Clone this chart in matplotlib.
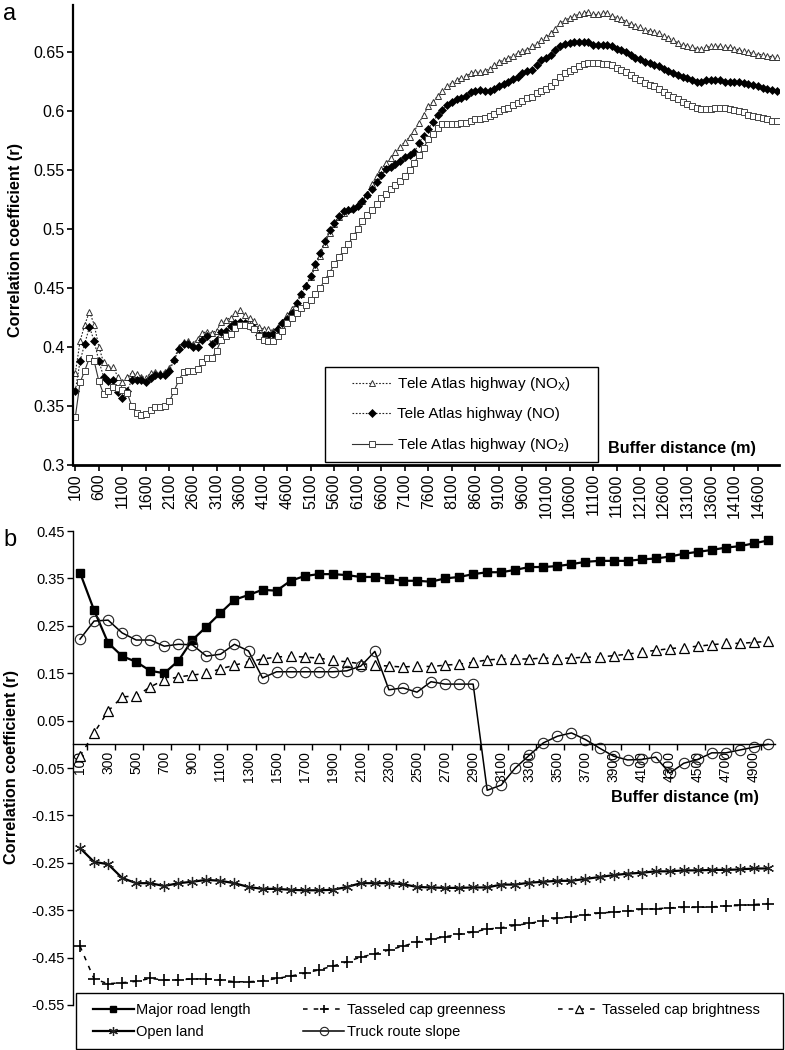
import matplotlib
matplotlib.use("Agg")
import matplotlib.pyplot as plt
from matplotlib.patches import Rectangle

plt.rcParams['font.family'] = ['Liberation Sans', 'DejaVu Sans']

# ---- panel a: Tele Atlas highway, buffers 100 m .. 15000 m
buffer_a = list(range(100, 15001, 100))
nox = [0.378, 0.405, 0.419, 0.430, 0.419, 0.400, 0.387, 0.383, 0.383, 0.375,
       0.370, 0.375, 0.378, 0.377, 0.375, 0.374, 0.378, 0.379, 0.378, 0.379,
       0.382, 0.390, 0.400, 0.404, 0.405, 0.403, 0.407, 0.412, 0.413, 0.412,
       0.414, 0.421, 0.423, 0.425, 0.429, 0.431, 0.427, 0.425, 0.422, 0.417,
       0.415, 0.415, 0.414, 0.417, 0.421, 0.427, 0.432, 0.437, 0.445, 0.453,
       0.459, 0.468, 0.477, 0.487, 0.497, 0.504, 0.510, 0.514, 0.517, 0.519,
       0.521, 0.524, 0.530, 0.538, 0.545, 0.551, 0.556, 0.560, 0.565, 0.570,
       0.574, 0.578, 0.583, 0.590, 0.597, 0.604, 0.608, 0.613, 0.617, 0.621,
       0.624, 0.626, 0.628, 0.630, 0.632, 0.633, 0.633, 0.634, 0.636, 0.639,
       0.642, 0.643, 0.645, 0.647, 0.649, 0.651, 0.652, 0.655, 0.657, 0.660,
       0.663, 0.666, 0.670, 0.675, 0.677, 0.679, 0.681, 0.682, 0.683, 0.684,
       0.682, 0.682, 0.683, 0.683, 0.681, 0.679, 0.678, 0.676, 0.674, 0.672,
       0.671, 0.669, 0.668, 0.667, 0.666, 0.664, 0.662, 0.660, 0.658, 0.656,
       0.655, 0.654, 0.653, 0.653, 0.654, 0.655, 0.655, 0.655, 0.654, 0.654,
       0.653, 0.652, 0.651, 0.650, 0.649, 0.648, 0.648, 0.647, 0.646, 0.646]
no = [0.363, 0.388, 0.403, 0.417, 0.405, 0.388, 0.375, 0.371, 0.372, 0.362,
      0.357, 0.363, 0.372, 0.372, 0.372, 0.370, 0.374, 0.376, 0.376, 0.376,
      0.380, 0.389, 0.398, 0.403, 0.403, 0.400, 0.400, 0.406, 0.409, 0.403,
      0.406, 0.413, 0.414, 0.418, 0.420, 0.421, 0.420, 0.418, 0.416, 0.410,
      0.410, 0.410, 0.411, 0.415, 0.420, 0.424, 0.429, 0.437, 0.445, 0.452,
      0.460, 0.470, 0.480, 0.490, 0.499, 0.505, 0.511, 0.515, 0.516, 0.517,
      0.520, 0.524, 0.529, 0.534, 0.540, 0.546, 0.551, 0.553, 0.555, 0.558,
      0.561, 0.563, 0.565, 0.573, 0.579, 0.585, 0.591, 0.597, 0.601, 0.605,
      0.608, 0.610, 0.611, 0.613, 0.616, 0.617, 0.618, 0.617, 0.617, 0.619,
      0.621, 0.623, 0.625, 0.627, 0.629, 0.632, 0.634, 0.635, 0.639, 0.643,
      0.645, 0.648, 0.652, 0.655, 0.657, 0.658, 0.659, 0.659, 0.659, 0.659,
      0.656, 0.656, 0.656, 0.656, 0.655, 0.653, 0.652, 0.650, 0.648, 0.645,
      0.644, 0.642, 0.641, 0.639, 0.638, 0.636, 0.634, 0.632, 0.631, 0.629,
      0.628, 0.626, 0.625, 0.625, 0.626, 0.626, 0.626, 0.626, 0.625, 0.625,
      0.625, 0.625, 0.624, 0.623, 0.622, 0.621, 0.620, 0.619, 0.618, 0.617]
no2 = [0.341, 0.370, 0.380, 0.391, 0.388, 0.371, 0.360, 0.363, 0.366, 0.365,
       0.364, 0.361, 0.350, 0.344, 0.342, 0.343, 0.347, 0.349, 0.349, 0.350,
       0.354, 0.363, 0.372, 0.379, 0.380, 0.380, 0.381, 0.387, 0.391, 0.391,
       0.397, 0.406, 0.409, 0.411, 0.416, 0.419, 0.419, 0.418, 0.415, 0.409,
       0.406, 0.405, 0.405, 0.409, 0.414, 0.420, 0.425, 0.429, 0.433, 0.436,
       0.440, 0.445, 0.450, 0.457, 0.463, 0.470, 0.476, 0.482, 0.487, 0.494,
       0.500, 0.507, 0.512, 0.516, 0.521, 0.526, 0.530, 0.534, 0.537, 0.541,
       0.545, 0.550, 0.556, 0.563, 0.569, 0.576, 0.581, 0.586, 0.589, 0.589,
       0.589, 0.589, 0.590, 0.590, 0.592, 0.593, 0.593, 0.594, 0.596, 0.598,
       0.600, 0.602, 0.603, 0.605, 0.607, 0.609, 0.611, 0.612, 0.615, 0.617,
       0.619, 0.621, 0.625, 0.629, 0.632, 0.634, 0.636, 0.638, 0.640, 0.641,
       0.641, 0.641, 0.640, 0.640, 0.639, 0.637, 0.635, 0.633, 0.631, 0.628,
       0.626, 0.624, 0.622, 0.621, 0.619, 0.616, 0.614, 0.612, 0.610, 0.608,
       0.606, 0.604, 0.603, 0.602, 0.602, 0.602, 0.603, 0.603, 0.603, 0.602,
       0.601, 0.600, 0.599, 0.597, 0.596, 0.595, 0.594, 0.593, 0.592, 0.592]

# ---- panel b: buffers 100 m .. 5000 m
buffer_b = list(range(100, 5001, 100))
major_road = [0.362, 0.283, 0.214, 0.186, 0.174, 0.155, 0.150, 0.176, 0.220, 0.248,
              0.277, 0.305, 0.315, 0.326, 0.324, 0.345, 0.355, 0.359, 0.359, 0.357,
              0.353, 0.353, 0.349, 0.345, 0.345, 0.343, 0.350, 0.353, 0.359, 0.363,
              0.363, 0.368, 0.374, 0.374, 0.376, 0.380, 0.385, 0.387, 0.387, 0.387,
              0.390, 0.392, 0.396, 0.402, 0.406, 0.410, 0.415, 0.418, 0.424, 0.430]
greenness = [-0.426, -0.495, -0.505, -0.503, -0.500, -0.494, -0.497, -0.497, -0.495, -0.495,
             -0.497, -0.501, -0.501, -0.499, -0.494, -0.489, -0.483, -0.476, -0.468, -0.459,
             -0.449, -0.442, -0.434, -0.426, -0.417, -0.411, -0.406, -0.401, -0.396, -0.390,
             -0.387, -0.382, -0.378, -0.372, -0.367, -0.364, -0.360, -0.356, -0.354, -0.352,
             -0.348, -0.347, -0.345, -0.344, -0.344, -0.343, -0.341, -0.340, -0.338, -0.336]
brightness = [-0.025, 0.024, 0.070, 0.100, 0.102, 0.121, 0.136, 0.142, 0.146, 0.150,
              0.159, 0.167, 0.174, 0.180, 0.184, 0.186, 0.184, 0.182, 0.177, 0.174,
              0.170, 0.167, 0.165, 0.163, 0.165, 0.164, 0.167, 0.169, 0.173, 0.178,
              0.180, 0.180, 0.180, 0.182, 0.181, 0.182, 0.184, 0.184, 0.187, 0.190,
              0.195, 0.198, 0.202, 0.204, 0.207, 0.210, 0.213, 0.213, 0.215, 0.217]
open_land = [-0.219, -0.248, -0.253, -0.282, -0.293, -0.293, -0.299, -0.293, -0.290, -0.286,
             -0.288, -0.293, -0.301, -0.305, -0.305, -0.307, -0.308, -0.308, -0.307, -0.301,
             -0.293, -0.293, -0.293, -0.295, -0.301, -0.302, -0.303, -0.303, -0.302, -0.302,
             -0.296, -0.296, -0.292, -0.290, -0.288, -0.288, -0.284, -0.280, -0.276, -0.273,
             -0.271, -0.268, -0.268, -0.266, -0.266, -0.265, -0.265, -0.264, -0.262, -0.262]
truck_slope = [0.222, 0.260, 0.262, 0.235, 0.220, 0.220, 0.207, 0.211, 0.210, 0.186,
               0.190, 0.211, 0.197, 0.140, 0.153, 0.153, 0.153, 0.153, 0.153, 0.155,
               0.165, 0.196, 0.115, 0.119, 0.110, 0.132, 0.127, 0.127, 0.127, -0.097,
               -0.086, -0.050, -0.023, 0.003, 0.017, 0.024, 0.010, -0.008, -0.025, -0.033,
               -0.032, -0.027, -0.061, -0.040, -0.032, -0.018, -0.018, -0.012, -0.006, 0.000]

fig = plt.figure(figsize=(7.85, 10.5), dpi=100)

# ================= panel a =================
ax1 = fig.add_axes([73 / 785, 1 - 465 / 1050, 706 / 785, 460 / 1050])
xa = list(range(len(buffer_a)))
l_nox, = ax1.plot(xa, nox, color='#222222', lw=0.8, ls=(0, (1.5, 1.5)),
                  marker='^', ms=5, mfc='white', mec='#333333', mew=0.7)
l_no, = ax1.plot(xa, no, color='#222222', lw=0.8, ls=(0, (1.5, 1.5)),
                 marker='D', ms=3.8, mfc='black', mec='black', mew=0.5)
l_no2, = ax1.plot(xa, no2, color='#333333', lw=0.8, ls='-',
                  marker='s', ms=4.3, mfc='white', mec='#444444', mew=0.7)

ax1.set_xlim(-0.5, len(buffer_a) - 0.5)
ax1.set_ylim(0.3, 0.69)
ax1.set_yticks([0.3, 0.35, 0.4, 0.45, 0.5, 0.55, 0.6, 0.65])
ax1.set_yticklabels(['0.3', '0.35', '0.4', '0.45', '0.5', '0.55', '0.6', '0.65'], fontsize=11.5)
tick_idx = list(range(0, len(buffer_a) - 4, 5))
ax1.set_xticks(tick_idx)
ax1.set_xticklabels([str(buffer_a[i]) for i in tick_idx], fontsize=11.5)
ax1.tick_params(axis='x', labelrotation=90)
ax1.tick_params(axis='both', direction='out', length=4, width=1.2, pad=2)
for s in ['top', 'right']:
    ax1.spines[s].set_visible(False)
ax1.spines['left'].set_linewidth(1.6)
ax1.spines['bottom'].set_linewidth(2.0)

ax1.add_patch(Rectangle((0.357, 0.0065), 0.387, 0.2065, transform=ax1.transAxes,
                        facecolor='white', edgecolor='black', lw=1.0, zorder=4))
ax1.legend([l_nox, l_no, l_no2],
           ['Tele Atlas highway (NO$_\\mathregular{X}$)', 'Tele Atlas highway (NO)',
            'Tele Atlas highway (NO$_\\mathregular{2}$)'],
           loc='center', bbox_to_anchor=(0.5505, 0.11), frameon=False, fontsize=11,
           handlelength=2.6, handletextpad=0.3, labelspacing=0.95).set_zorder(5)
ax1.text(0.863, 0.035, 'Buffer distance (m)', transform=ax1.transAxes,
         ha='center', va='center', fontsize=11.7, fontweight='bold')

# ================= panel b =================
ax2 = fig.add_axes([73 / 785, 1 - 1005 / 1050, 702 / 785, 474 / 1050])
xb = list(range(len(buffer_b)))
l_major, = ax2.plot(xb, major_road, color='black', lw=1.6, marker='s', ms=5.5,
                    mfc='black', mec='black')
l_green, = ax2.plot(xb, greenness, color='black', lw=1.1, ls=(0, (3, 4)), marker='+',
                    ms=8, mew=1.2, mec='black')
l_bright, = ax2.plot(xb, brightness, color='black', lw=1.1, ls=(0, (3, 4)), marker='^',
                     ms=7, mfc='white', mec='black', mew=0.9)
l_open, = ax2.plot(xb, open_land, color='black', lw=1.6, marker=(6, 2, 0), ms=8,
                   mec='#222222', mew=0.9)
l_truck, = ax2.plot(xb, truck_slope, color='black', lw=1.1, marker='o', ms=7.5,
                    mfc='none', mec='#222222', mew=0.8)

ax2.set_xlim(-0.5, len(buffer_b) - 0.5)
ax2.set_ylim(-0.55, 0.45)
yb = [0.45, 0.35, 0.25, 0.15, 0.05, -0.05, -0.15, -0.25, -0.35, -0.45, -0.55]
ax2.set_yticks(yb)
ax2.set_yticklabels(['%.2f' % v for v in yb], fontsize=10.5)
ax2.set_xticks([i - 0.5 for i in range(1, len(buffer_b), 2)])
ax2.set_xticklabels([])
lab_idx = list(range(0, len(buffer_b), 2))
ax2.set_xticks(lab_idx, minor=True)
ax2.set_xticklabels([str(buffer_b[i]) for i in lab_idx], minor=True, fontsize=10.5)
ax2.tick_params(axis='x', which='minor', length=0, pad=5, labelrotation=90)
ax2.tick_params(axis='x', which='major', direction='out', length=4, width=1)
ax2.tick_params(axis='y', direction='out', length=4, width=1, pad=2)
for s in ['top', 'right']:
    ax2.spines[s].set_visible(False)
ax2.spines['bottom'].set_position(('data', 0))
ax2.spines['bottom'].set_linewidth(1.0)
ax2.spines['left'].set_linewidth(1.0)
ax2.text(0.872, -0.113, 'Buffer distance (m)', transform=ax2.get_yaxis_transform(),
         ha='center', va='center', fontsize=11.7, fontweight='bold')

# bottom legend, frame drawn separately
fig.patches.append(Rectangle((76 / 785, 0.001), 707 / 785, 0.0533, transform=fig.transFigure,
                             facecolor='white', edgecolor='black', lw=1.0, zorder=4))
leg = fig.legend([l_major, l_open, l_green, l_truck, l_bright],
                 ['Major road length', 'Open land', 'Tasseled cap greenness',
                  'Truck route slope', 'Tasseled cap brightness'],
                 ncol=3, loc='center', bbox_to_anchor=(0.543, 0.0277), frameon=False,
                 fontsize=10.5, handlelength=2.8, handletextpad=0.2, columnspacing=3.6,
                 labelspacing=0.55, markerscale=0.8)
leg.set_zorder(5)

# axis titles and panel letters
fig.text(16 / 785, 1 - 240 / 1050, 'Correlation coefficient (r)', rotation=90,
         ha='center', va='center', fontsize=11.7, fontweight='bold')
fig.text(12 / 785, 1 - 767 / 1050, 'Correlation coefficient (r)', rotation=90,
         ha='center', va='center', fontsize=11.7, fontweight='bold')
fig.text(10 / 785, 1 - 14 / 1050, 'a', ha='center', va='center', fontsize=17)
fig.text(10 / 785, 1 - 540 / 1050, 'b', ha='center', va='center', fontsize=17)

fig.savefig('out.png', dpi=100)
